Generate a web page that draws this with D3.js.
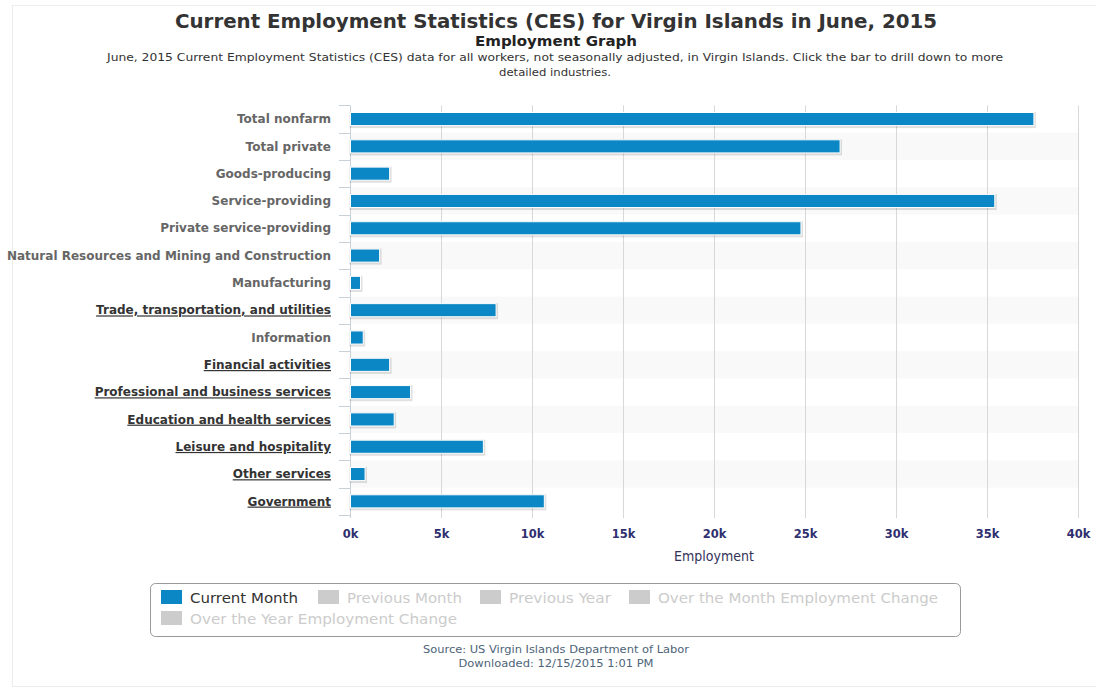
<!DOCTYPE html>
<html>
<head>
<meta charset="utf-8">
<script src="https://cdn.jsdelivr.net/npm/d3@7"></script>
<style>
  html, body { margin: 0; padding: 0; background: #ffffff; }
  svg { display: block; }
</style>
</head>
<body>
<svg id="chart" width="1096" height="688"></svg>
<script>
// ---- data ----
const categories = [
  "Total nonfarm",
  "Total private",
  "Goods-producing",
  "Service-providing",
  "Private service-providing",
  "Natural Resources and Mining and Construction",
  "Manufacturing",
  "Trade, transportation, and utilities",
  "Information",
  "Financial activities",
  "Professional and business services",
  "Education and health services",
  "Leisure and hospitality",
  "Other services",
  "Government"
];
const currentMonth = [37550, 26900, 2150, 35400, 24750, 1600, 550, 8000, 700, 2150, 3300, 2400, 7300, 800, 10650];
const drilldown = [false, false, false, false, false, false, false, true, false, true, true, true, true, true, true];
const xTickValues = [0, 5000, 10000, 15000, 20000, 25000, 30000, 35000, 40000];
const legendItems = ["Current Month", "Previous Month", "Previous Year", "Over the Month Employment Change", "Over the Year Employment Change"];
const legendActive = [true, false, false, false, false];
const titleText = "Current Employment Statistics (CES) for Virgin Islands in June, 2015";
const subtitleText = "Employment Graph";
const descLines = [
  "June, 2015 Current Employment Statistics (CES) data for all workers, not seasonally adjusted, in Virgin Islands. Click the bar to drill down to more",
  "detailed industries."
];
const sourceLines = ["Source: US Virgin Islands Department of Labor", "Downloaded: 12/15/2015 1:01 PM"];
const axisTitle = "Employment";

// ---- layout ----
const svg = d3.select("#chart");
const plotLeft = 350, plotRight = 1078, plotTop = 105.4, plotBottom = 515;
const barColor = "#0b87c5";

// outer frame
svg.append("rect").attr("x", 12.5).attr("y", 5.5).attr("width", 1100).attr("height", 681)
  .attr("fill", "#fff").attr("stroke", "#ececec");

function fitText(sel, width) {
  const node = sel.node();
  const w = node.getComputedTextLength();
  if (Math.abs(w - width) > 2) {
    sel.attr("textLength", width).attr("lengthAdjust", "spacingAndGlyphs");
  }
  return sel;
}

// titles
fitText(svg.append("text").attr("x", 556).attr("y", 28).attr("text-anchor", "middle")
  .attr("font-family", "DejaVu Sans Condensed, DejaVu Sans").attr("font-weight", "bold")
  .attr("font-size", 20).attr("fill", "#333").text(titleText), 762);
fitText(svg.append("text").attr("x", 556).attr("y", 46).attr("text-anchor", "middle")
  .attr("font-family", "DejaVu Sans Condensed, DejaVu Sans").attr("font-weight", "bold")
  .attr("font-size", 14).attr("fill", "#222").text(subtitleText), 162);
const descW = [896, 112];
descLines.forEach((t, i) => {
  fitText(svg.append("text").attr("x", 555).attr("y", 61 + i * 15).attr("text-anchor", "middle")
    .attr("font-family", "DejaVu Sans Condensed, DejaVu Sans").attr("font-size", 11)
    .attr("fill", "#333").text(t), descW[i]);
});

// scales
const x = d3.scaleLinear().domain([0, 40000]).range([plotLeft, plotRight]);
const y = d3.scaleBand().domain(categories).range([plotTop, plotBottom])
  .paddingInner(0.52).paddingOuter(0.26);
const step = y.step();
const bandTop = c => y(c) - y.paddingInner() * step / 2;

// alternating plot bands
svg.append("g").selectAll("rect").data(categories.filter((c, i) => i % 2 === 1)).join("rect")
  .attr("x", plotLeft).attr("width", plotRight - plotLeft)
  .attr("y", d => bandTop(d)).attr("height", step)
  .attr("fill", "#f9f9f9");

// vertical grid lines
svg.append("g").selectAll("line").data(xTickValues.filter(v => v > 0)).join("line")
  .attr("x1", d => x(d) + 0.5).attr("x2", d => x(d) + 0.5)
  .attr("y1", plotTop).attr("y2", plotBottom + 3)
  .attr("stroke", "#d8d8d8").attr("stroke-width", 1);

// category axis line & boundary ticks
svg.append("line").attr("x1", plotLeft + 0.5).attr("x2", plotLeft + 0.5)
  .attr("y1", plotTop).attr("y2", plotBottom + 3).attr("stroke", "#c8d0d8");
const bounds = categories.map(c => bandTop(c)).concat([plotBottom]);
svg.append("g").selectAll("line").data(bounds).join("line")
  .attr("x1", plotLeft - 11).attr("x2", plotLeft)
  .attr("y1", d => Math.round(d) + 0.5).attr("y2", d => Math.round(d) + 0.5)
  .attr("stroke", "#c8d0d8");

// category labels via d3 axis
const yAxis = svg.append("g").attr("transform", `translate(${plotLeft - 19},0)`)
  .call(d3.axisLeft(y).tickSize(0).tickPadding(0));
yAxis.select(".domain").remove();
yAxis.selectAll("text")
  .attr("font-family", "DejaVu Sans").attr("font-weight", "bold").attr("font-size", 12)
  .attr("dy", "0.35em")
  .attr("fill", (d, i) => drilldown[i] ? "#333" : "#666")
  .style("text-decoration", (d, i) => drilldown[i] ? "underline" : "none");

// bars with soft shadow
const bars = svg.append("g");
bars.selectAll("rect.shadow").data(categories).join("rect").attr("class", "shadow")
  .attr("x", x(0) + 1).attr("y", d => y(d) + 1)
  .attr("width", (d, i) => x(currentMonth[i]) - x(0)).attr("height", y.bandwidth())
  .attr("fill", "none").attr("stroke", "rgba(0,0,0,0.12)").attr("stroke-width", 3);
bars.selectAll("rect.bar").data(categories).join("rect").attr("class", "bar")
  .attr("x", x(0) + 0.5).attr("y", d => y(d))
  .attr("width", (d, i) => x(currentMonth[i]) - x(0)).attr("height", y.bandwidth())
  .attr("fill", barColor).attr("stroke", "#ffffff").attr("stroke-width", 1);

// value axis
const xAxis = svg.append("g").attr("transform", `translate(0,${plotBottom})`)
  .call(d3.axisBottom(x).tickValues(xTickValues).tickFormat(d => (d / 1000) + "k").tickSize(0).tickPadding(15));
xAxis.select(".domain").remove();
xAxis.selectAll("text")
  .attr("font-family", "DejaVu Sans").attr("font-weight", "bold").attr("font-size", 11.5)
  .attr("fill", "#2f2f6f");

svg.append("text").attr("x", (plotLeft + plotRight) / 2).attr("y", 561).attr("text-anchor", "middle")
  .attr("font-family", "DejaVu Sans Condensed, DejaVu Sans").attr("font-size", 14)
  .attr("fill", "#33335a").text(axisTitle);

// legend
svg.append("rect").attr("x", 150.5).attr("y", 583.5).attr("width", 810).attr("height", 53).attr("rx", 5)
  .attr("fill", "#fff").attr("stroke", "#999");
const legendPos = [[161, 603], [318, 603], [480, 603], [629, 603], [161, 624]];
const legendW = [108, 115, 102, 280, 267];
const lg = svg.append("g");
legendItems.forEach((t, i) => {
  const [lx, ly] = legendPos[i];
  lg.append("rect").attr("x", lx).attr("y", ly - 13).attr("width", 21).attr("height", 14)
    .attr("fill", legendActive[i] ? barColor : "#cccccc");
  fitText(lg.append("text").attr("x", lx + 29).attr("y", ly)
    .attr("font-family", "DejaVu Sans Condensed, DejaVu Sans").attr("font-size", 14)
    .attr("fill", legendActive[i] ? "#333" : "#cccccc").text(t), legendW[i]);
});

// source
const srcW = [266, 195];
sourceLines.forEach((t, i) => {
  fitText(svg.append("text").attr("x", 556).attr("y", 653 + i * 14).attr("text-anchor", "middle")
    .attr("font-family", "DejaVu Sans Condensed, DejaVu Sans").attr("font-size", 10.5)
    .attr("fill", "#4e6478").text(t), srcW[i]);
});
</script>
</body>
</html>
